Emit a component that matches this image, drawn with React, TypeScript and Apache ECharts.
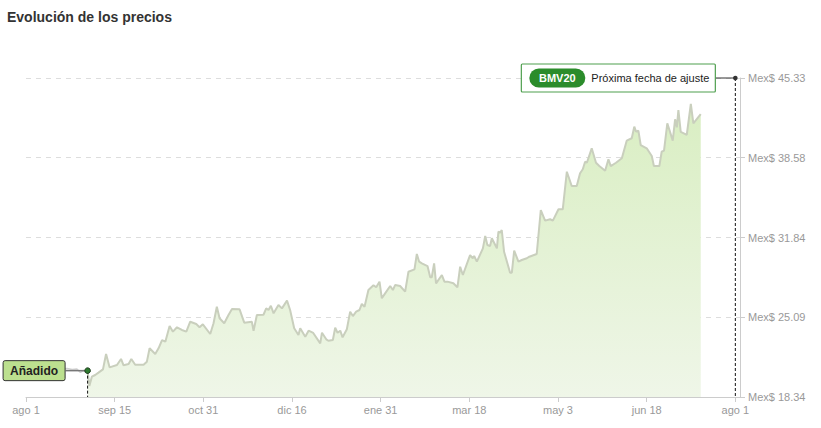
import React, { useEffect, useRef } from 'react';
import * as echarts from 'echarts';

const chartTitle = 'Evolución de los precios';
const xTickLabels = ['ago 1', 'sep 15', 'oct 31', 'dic 16', 'ene 31', 'mar 18', 'may 3', 'jun 18', 'ago 1'];
const yTickLabels = ['Mex$ 18.34', 'Mex$ 25.09', 'Mex$ 31.84', 'Mex$ 38.58', 'Mex$ 45.33'];
const yMin = 18.34;
const yMax = 45.33;
const periodDays = 365;
const axisEndDay = 367.4;

// prices before the stock was added to the index (days since ago 1)
const preDays = [7.4, 9.9, 12.5, 15.6, 18.7, 21.1, 23.8, 26.2, 27.9, 29.6, 31.0, 31.7];
const prePrices = [20.12, 19.78, 20.29, 20.46, 20.71, 20.75, 20.67, 20.71, 20.43, 20.58, 20.37, 20.57];

// prices since added (days since ago 1)
const days = [
  31.7, 32.6, 33.9, 35.6, 37.3, 39.6, 41.2, 43.0, 46.8, 48.9, 50.2, 52.8, 54.2, 56.2, 60.5, 62.2, 63.6, 66.5, 68.2, 70.0,
  71.7, 73.9, 75.6, 77.7, 80.2, 82.5, 84.5, 87.6, 89.3, 91.0, 94.8, 96.5, 98.2, 99.6, 102.0, 104.2, 106.0, 109.9, 112.3, 116.2,
  117.1, 118.8, 122.2, 123.6, 124.8, 126.0, 127.4, 129.9, 131.7, 134.3, 135.9, 138.0, 140.2, 141.1, 143.7, 145.4, 147.8, 151.4, 152.3, 154.5,
  155.6, 157.9, 159.1, 160.3, 161.7, 162.9, 165.1, 166.8, 168.2, 169.9, 171.6, 172.8, 174.2, 176.2, 178.8, 180.2, 181.9, 183.1, 184.8, 187.4,
  188.8, 190.0, 192.5, 195.1, 196.8, 199.9, 201.1, 202.3, 203.7, 206.6, 208.0, 208.8, 210.0, 211.0, 214.0, 215.3, 216.9, 219.9, 222.0, 223.4,
  224.8, 228.5, 229.9, 230.6, 232.0, 235.1, 236.3, 237.4, 238.8, 239.7, 242.3, 243.1, 244.0, 244.8, 246.0, 249.1, 250.0, 251.2, 253.4, 255.1,
  257.7, 259.0, 262.8, 264.9, 267.1, 269.7, 271.1, 274.0, 276.2, 278.3, 280.8, 283.4, 285.1, 286.5, 287.7, 288.6, 291.1, 293.3, 295.0, 298.0,
  299.7, 300.9, 303.6, 306.6, 309.1, 311.7, 313.0, 313.9, 315.1, 316.3, 319.4, 322.0, 323.1, 325.9, 327.1, 328.3, 330.0, 332.8, 334.0, 334.9,
  335.7, 336.9, 340.0, 342.1, 343.4, 347.2,
];
const prices = [
  20.57, 19.27, 20.06, 20.20, 20.40, 20.68, 21.98, 20.85, 21.05, 21.56, 21.02, 21.13, 21.56, 21.07, 21.07, 21.33, 22.46, 21.98, 22.46, 23.16,
  23.02, 24.35, 23.87, 24.24, 24.01, 23.87, 24.71, 24.52, 24.24, 24.49, 23.67, 24.58, 25.98, 25.00, 24.58, 25.28, 25.79, 25.76, 24.63, 24.71,
  23.95, 25.28, 25.30, 25.84, 25.70, 26.06, 25.42, 26.12, 25.84, 26.49, 25.70, 24.15, 23.58, 24.15, 23.44, 23.95, 23.76, 22.88, 23.78, 23.22,
  23.10, 23.16, 24.20, 23.78, 23.95, 23.39, 24.07, 25.56, 25.19, 25.56, 25.70, 26.21, 25.98, 27.39, 27.79, 27.62, 28.10, 26.69, 27.11, 27.73,
  27.39, 27.82, 27.73, 27.25, 28.94, 29.14, 30.44, 29.79, 29.65, 29.42, 28.47, 28.47, 29.65, 27.96, 28.66, 28.10, 28.10, 27.96, 27.62, 29.36,
  28.66, 30.35, 30.08, 30.27, 29.79, 30.92, 31.96, 31.20, 31.12, 31.77, 30.92, 32.33, 32.24, 32.47, 30.63, 28.86, 28.86, 30.72, 29.79, 29.93,
  30.08, 30.21, 30.44, 34.16, 33.26, 33.38, 33.26, 34.22, 34.22, 37.40, 36.19, 36.19, 37.27, 37.61, 38.25, 38.16, 39.38, 38.16, 37.88, 37.49,
  38.45, 37.88, 38.16, 38.54, 40.03, 40.23, 41.21, 40.79, 40.87, 39.66, 39.38, 38.73, 37.88, 37.88, 39.09, 39.18, 41.50, 40.03, 41.84, 41.16,
  42.62, 40.77, 40.51, 43.13, 41.50, 42.28,
];

const addedLabel = 'Añadido';
const addedDay = 31.7;
const addedPrice = 20.57;
const indexName = 'BMV20';
const nextAdjustLabel = 'Próxima fecha de ajuste';
const nextAdjustDay = 365;
const nextAdjustPrice = 45.33;

const FONT = "'Liberation Sans', Arial, sans-serif";

export default function App() {
  const ref = useRef<HTMLDivElement>(null);
  useEffect(() => {
    if (!ref.current) return;
    const chart = echarts.init(ref.current, undefined, { renderer: 'svg' });
    const xInterval = periodDays / (xTickLabels.length - 1);
    const yInterval = (yMax - yMin) / (yTickLabels.length - 1);
    const option: any = {
      animation: false,
      textStyle: { fontFamily: FONT },
      title: {
        text: chartTitle,
        left: 7,
        top: 10,
        padding: 0,
        textStyle: { fontFamily: FONT, fontSize: 14, fontWeight: 'bold', color: '#333' },
      },
      grid: { left: 26, right: 81, top: 78, bottom: 31, containLabel: false },
      xAxis: {
        type: 'value',
        min: 0,
        max: axisEndDay,
        interval: xInterval,
        axisLine: { show: true, onZero: false, lineStyle: { color: '#ccc', width: 1 } },
        axisTick: { show: true, length: 5, lineStyle: { color: '#ccc' } },
        splitLine: { show: false },
        axisLabel: {
          color: '#999',
          fontSize: 11,
          fontFamily: FONT,
          margin: 7,
          showMaxLabel: false,
          formatter: (v: number) => {
            const i = Math.round(v / xInterval);
            if (Math.abs(v - i * xInterval) < 0.01 && i >= 0 && i < xTickLabels.length) return xTickLabels[i];
            return '';
          },
        },
      },
      yAxis: {
        type: 'value',
        position: 'right',
        min: yMin,
        max: yMax,
        interval: yInterval,
        axisLine: { show: true, onZero: false, lineStyle: { color: '#ccc', width: 1 } },
        axisTick: { show: true, length: 5, lineStyle: { color: '#ccc' } },
        splitLine: { show: true, lineStyle: { color: '#ddd', type: [5, 5], width: 1 } },
        axisLabel: {
          color: '#999',
          fontSize: 11,
          fontFamily: FONT,
          margin: 8,
          formatter: (v: number) => {
            const i = Math.round((v - yMin) / yInterval);
            if (Math.abs(v - (yMin + i * yInterval)) < 0.01 && i >= 0 && i < yTickLabels.length) return yTickLabels[i];
            return '';
          },
        },
      },
      series: [
        {
          name: 'before',
          type: 'line',
          data: preDays.map((d, i) => [d, prePrices[i]]),
          showSymbol: false,
          lineStyle: { color: '#cfcfcf', width: 1.5 },
          z: 1,
        },
        {
          name: 'price',
          type: 'line',
          data: days.map((d, i) => [d, prices[i]]),
          showSymbol: false,
          lineStyle: { color: '#c9cfbd', width: 2 },
          areaStyle: {
            origin: 'start',
            color: new echarts.graphic.LinearGradient(0, 0, 0, 1, [
              { offset: 0, color: '#d9eec2' },
              { offset: 1, color: '#eff6e8' },
            ]),
            opacity: 1,
          },
          z: 2,
        },
      ],
    };
    chart.setOption(option);

    const pA = chart.convertToPixel({ gridIndex: 0 }, [addedDay, addedPrice]) as number[];
    const pB = chart.convertToPixel({ gridIndex: 0 }, [nextAdjustDay, nextAdjustPrice]) as number[];
    const pBase = chart.convertToPixel({ gridIndex: 0 }, [addedDay, yMin]) as number[];
    const baseY = pBase[1];

    const graphic: any[] = [
      // Añadido marker
      {
        type: 'line',
        shape: { x1: pA[0], y1: pA[1], x2: pA[0], y2: baseY },
        style: { stroke: '#111', lineWidth: 1, lineDash: [3, 2] },
        z: 10,
      },
      {
        type: 'line',
        shape: { x1: pA[0] - 22, y1: pA[1], x2: pA[0], y2: pA[1] },
        style: { stroke: '#777', lineWidth: 1.5 },
        z: 10,
      },
      {
        type: 'rect',
        shape: { x: pA[0] - 84.5, y: pA[1] - 10, width: 62, height: 20, r: 2 },
        style: { fill: '#bce08f', stroke: '#333', lineWidth: 1 },
        z: 11,
      },
      {
        type: 'text',
        x: pA[0] - 53.5,
        y: pA[1],
        style: {
          text: addedLabel,
          fill: '#222',
          font: `bold 12px ${FONT}`,
          align: 'center',
          verticalAlign: 'middle',
        },
        z: 12,
      },
      {
        type: 'circle',
        shape: { cx: pA[0], cy: pA[1], r: 2.8 },
        style: { fill: '#2d7a2d', stroke: '#1d3d1d', lineWidth: 1 },
        z: 12,
      },
      // next adjustment marker
      {
        type: 'line',
        shape: { x1: pB[0], y1: pB[1], x2: pB[0], y2: baseY },
        style: { stroke: '#111', lineWidth: 1, lineDash: [3, 2] },
        z: 10,
      },
      {
        type: 'line',
        shape: { x1: pB[0] - 20, y1: pB[1], x2: pB[0], y2: pB[1] },
        style: { stroke: '#333', lineWidth: 1 },
        z: 10,
      },
      {
        type: 'rect',
        shape: { x: pB[0] - 214, y: pB[1] - 14, width: 194, height: 28, r: 1 },
        style: { fill: '#fff', stroke: '#4f9f4f', lineWidth: 1.2 },
        z: 11,
      },
      {
        type: 'rect',
        shape: { x: pB[0] - 206, y: pB[1] - 9.5, width: 56, height: 19, r: 9.5 },
        style: { fill: '#2b8c2b' },
        z: 12,
      },
      {
        type: 'text',
        x: pB[0] - 178,
        y: pB[1],
        style: {
          text: indexName,
          fill: '#fff',
          font: `bold 11px ${FONT}`,
          align: 'center',
          verticalAlign: 'middle',
        },
        z: 13,
      },
      {
        type: 'text',
        x: pB[0] - 144,
        y: pB[1],
        style: {
          text: nextAdjustLabel,
          fill: '#222',
          font: `11px ${FONT}`,
          align: 'left',
          verticalAlign: 'middle',
        },
        z: 13,
      },
      {
        type: 'circle',
        shape: { cx: pB[0], cy: pB[1], r: 2.3 },
        style: { fill: '#333' },
        z: 12,
      },
    ];
    chart.setOption({ graphic });

    return () => chart.dispose();
  }, []);
  return <div ref={ref} style={{ width: 821, height: 428, position: 'absolute', left: 0, top: 0 }} />;
}
